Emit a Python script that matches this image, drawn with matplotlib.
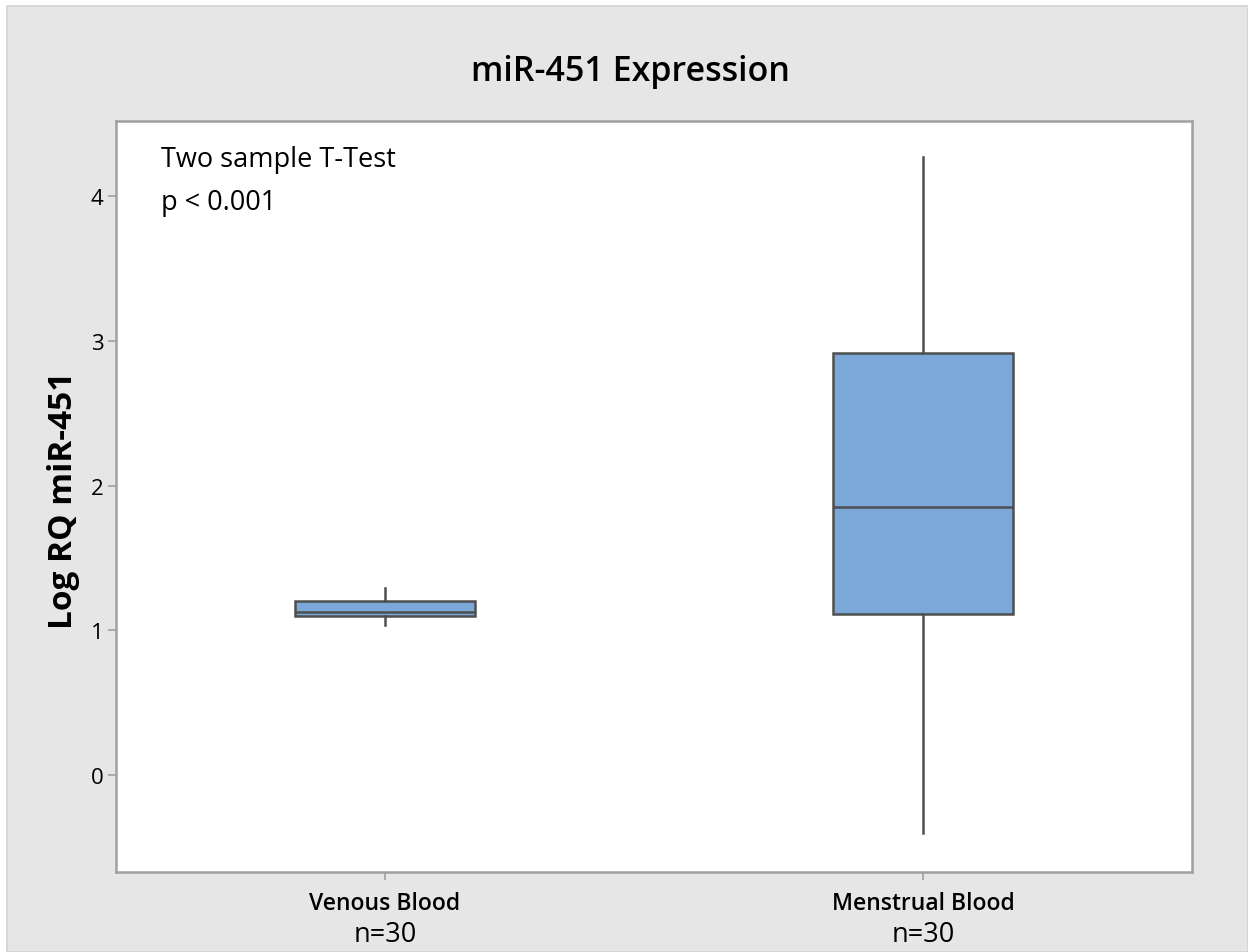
import matplotlib
matplotlib.use("Agg")
import matplotlib.pyplot as plt
from matplotlib.patches import Rectangle
import matplotlib.transforms as mtransforms

categories = ["Venous Blood", "Menstrual Blood"]
n_labels = ["n=30", "n=30"]
whislo = [1.04, -0.40]
q1 = [1.10, 1.115]
med = [1.13, 1.85]
q3 = [1.20, 2.92]
whishi = [1.29, 4.27]
yticks = [0, 1, 2, 3, 4]

plt.rcParams['font.family'] = ['Open Sans', 'DejaVu Sans']

W, H = 1248, 953
fig = plt.figure(figsize=(W / 100, H / 100), dpi=100)
fig.patch.set_facecolor("white")
fig.patches.append(Rectangle((7 / W, 0), 1 - 7 / W, 1 - 7 / H, transform=fig.transFigure,
                             facecolor="#e6e6e6", edgecolor="#d2d2d2", linewidth=1.2, zorder=-10))

ax = fig.add_axes([116 / W, 1 - 873 / H, (1192 - 116) / W, (873 - 122) / H])
ax.set_facecolor("white")

stats = []
for i in range(len(categories)):
    stats.append(dict(label=categories[i], whislo=whislo[i], q1=q1[i], med=med[i],
                      q3=q3[i], whishi=whishi[i], fliers=[]))

ax.bxp(stats, positions=[1, 2], widths=0.333, patch_artist=True, showcaps=False,
       boxprops=dict(facecolor="#7ba7d9", edgecolor="#4f4f4f", linewidth=1.8),
       medianprops=dict(color="#4f4f4f", linewidth=1.8),
       whiskerprops=dict(color="#4f4f4f", linewidth=1.8))

ax.set_xlim(0.5, 2.5)
ax.set_ylim(-0.67, 4.52)
ax.set_yticks(yticks)
ax.set_yticklabels([str(t) for t in yticks], fontsize=16)
ax.set_xticks([1, 2])
ax.set_xticklabels(categories, fontsize=16.5, fontweight="semibold")
ax.tick_params(axis="both", direction="out", length=6, width=1.2, color="#a0a0a0")
ax.tick_params(axis="y", pad=3)
ax.tick_params(axis="x", pad=8)

for sp in ax.spines.values():
    sp.set_color("#a0a0a0")
    sp.set_linewidth(1.8)

trans = mtransforms.blended_transform_factory(ax.transData, fig.transFigure)
for i, lab in enumerate(n_labels):
    ax.text(i + 1, 1 - 942 / H, lab, transform=trans, ha="center", va="baseline", fontsize=19.5)

fig.text(63 / W, 1 - 500 / H, "Log RQ miR-451", rotation=90, ha="center", va="center",
         fontsize=24, fontweight="bold")

fig.text(630 / W, 1 - 72 / H, "miR-451 Expression", ha="center", va="center",
         fontsize=24.5, fontweight="semibold")

ax.text(161 / W, 1 - 160 / H, "Two sample T-Test", transform=fig.transFigure,
        ha="left", va="center", fontsize=19.5)
ax.text(161 / W, 1 - 203 / H, "p < 0.001", transform=fig.transFigure,
        ha="left", va="center", fontsize=19.5)

fig.savefig("out.png", dpi=100, facecolor=fig.get_facecolor())
